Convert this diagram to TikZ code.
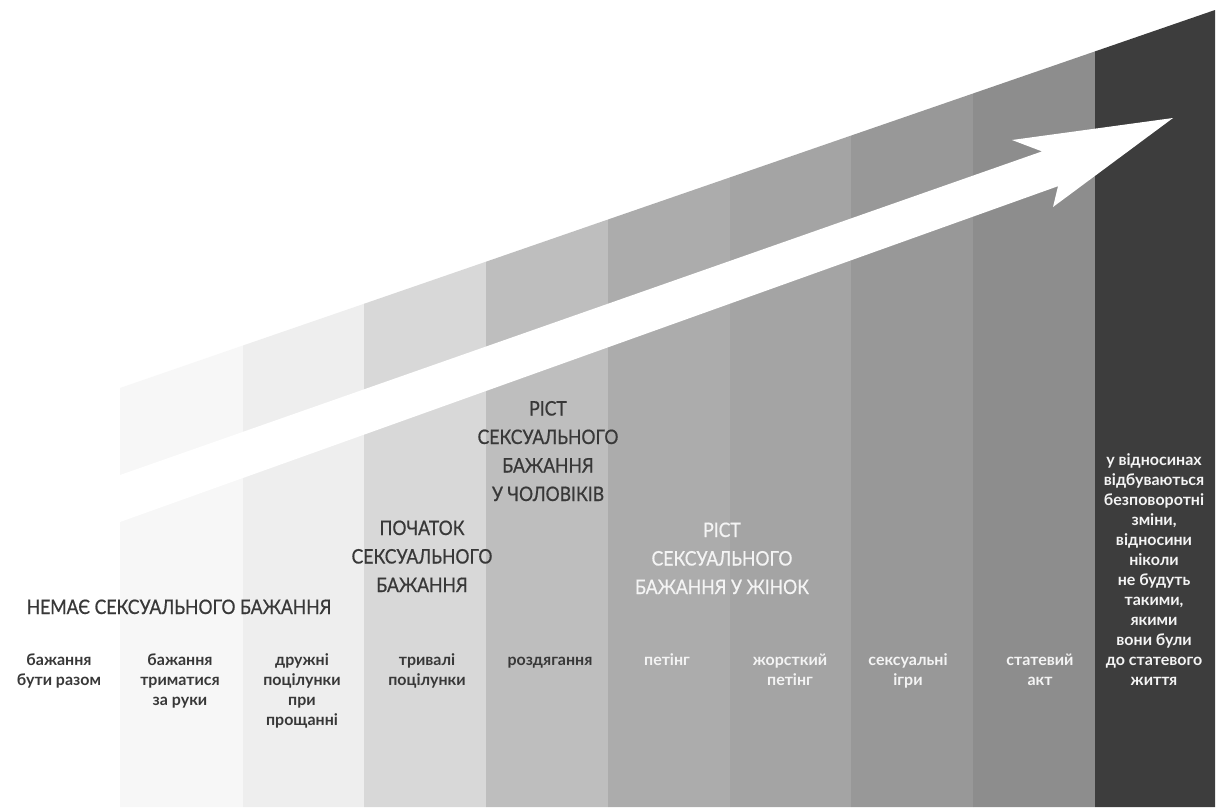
\documentclass[tikz,border=0pt]{standalone}
\usepackage{fontspec}
\setmainfont{Lato}
\newfontfamily\headfont{Lato}[FakeStretch=0.88,FakeBold=0.6]
\begin{document}
\begin{tikzpicture}[x=1pt,y=-1pt,
  head/.style={font=\headfont\fontsize{20}{28.5}\selectfont,align=center,inner sep=0pt,anchor=base},
  lab/.style={font=\bfseries\fontsize{16}{20}\selectfont,align=center,inner sep=0pt,anchor=base},
  dk/.style={text=txtdark},
  lt/.style={text=txtlight}]
\definecolor{txtdark}{HTML}{383838}
\definecolor{txtlight}{HTML}{F4F4F4}
\definecolor{c1}{HTML}{F7F7F7}
\definecolor{c2}{HTML}{EEEEEE}
\definecolor{c3}{HTML}{D8D8D8}
\definecolor{c4}{HTML}{BEBEBE}
\definecolor{c5}{HTML}{ACACAC}
\definecolor{c6}{HTML}{A4A4A4}
\definecolor{c7}{HTML}{989898}
\definecolor{c8}{HTML}{8D8D8D}
\definecolor{c9}{HTML}{3D3D3D}
\useasboundingbox[fill=white] (0,0) rectangle (1219,807);
% columns with sloping top edge
\fill[c1] (120,388) -- (243,345.5) -- (243,807) -- (120,807) -- cycle;
\fill[c2] (243,345.5) -- (364,303.8) -- (364,807) -- (243,807) -- cycle;
\fill[c3] (364,303.8) -- (486,261.7) -- (486,807) -- (364,807) -- cycle;
\fill[c4] (486,261.7) -- (608,219.5) -- (608,807) -- (486,807) -- cycle;
\fill[c5] (608,219.5) -- (730,177.4) -- (730,807) -- (608,807) -- cycle;
\fill[c6] (730,177.4) -- (851,135.6) -- (851,807) -- (730,807) -- cycle;
\fill[c7] (851,135.6) -- (973,93.5) -- (973,807) -- (851,807) -- cycle;
\fill[c8] (973,93.5) -- (1095,51.4) -- (1095,807) -- (973,807) -- cycle;
\fill[c9] (1095,51.4) -- (1215,10) -- (1215,807) -- (1095,807) -- cycle;
% white arrow
\fill[white] (110,478.5) -- (1042,151.4) -- (1012,140) -- (1173,118)
  -- (1053,207) -- (1058,186.2) -- (110,525.6) -- cycle;
% headings (anchor = baseline of last line)
\node[head,dk] (h1) at (179,614) {НЕМАЄ СЕКСУАЛЬНОГО БАЖАННЯ};
\node[head,dk] (h2) at (422,592) {ПОЧАТОК\\СЕКСУАЛЬНОГО\\БАЖАННЯ};
\node[head,dk] (h3) at (548,501) {РІСТ\\СЕКСУАЛЬНОГО\\БАЖАННЯ\\У ЧОЛОВІКІВ};
\node[head,lt] (h4) at (722,594) {РІСТ\\СЕКСУАЛЬНОГО\\БАЖАННЯ У ЖІНОК};
% labels (anchor = baseline of last line)
\node[lab,dk] (l0) at (59,685) {бажання\\бути разом};
\node[lab,dk] (l1) at (180,705) {бажання\\триматися\\за руки};
\node[lab,dk] (l2) at (302,725) {дружні\\поцілунки\\при\\прощанні};
\node[lab,dk] (l3) at (427,685) {тривалі\\поцілунки};
\node[lab,dk] (l4) at (550,665) {роздягання};
\node[lab,lt] (l5) at (667,665) {петінг};
\node[lab,lt] (l6) at (790,685) {жорсткий\\петінг};
\node[lab,lt] (l7) at (908,685) {сексуальні\\ігри};
\node[lab,lt] (l8) at (1040,685) {статевий\\акт};
\node[lab,lt] (l9) at (1154,685) {у відносинах\\відбуваються\\безповоротні\\зміни,\\відносини\\ніколи\\не будуть\\такими,\\якими\\вони були\\до статевого\\життя};
\end{tikzpicture}
\end{document}
